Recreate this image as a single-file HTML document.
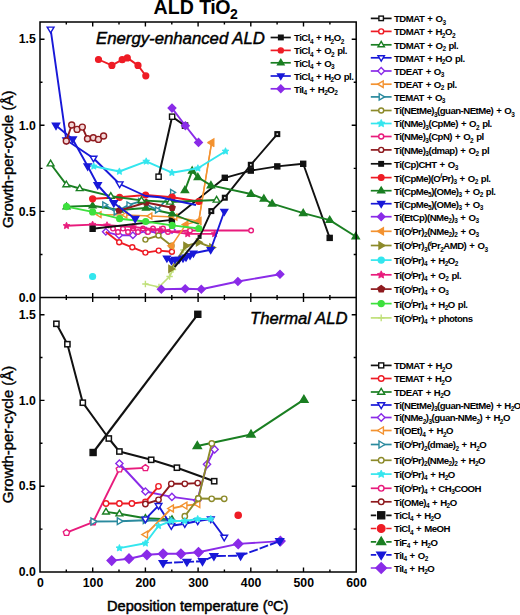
<!DOCTYPE html>
<html><head><meta charset="utf-8"><style>
html,body{margin:0;padding:0;background:#fff;}
svg{display:block;}
text{font-family:"Liberation Sans",sans-serif;fill:#000;}
</style></head><body>
<svg width="520" height="615" viewBox="0 0 520 615">
<rect width="520" height="615" fill="#fff"/>
<path d="M145.4 284.0 L159.0 287.0 L169.6 276.5 L173.0 269.6 L183.5 250.0" fill="none" stroke="#c0e07a" stroke-width="1.7" stroke-linejoin="round"/>
<path d="M142.2 284.0H148.6M145.4 280.8V287.2" stroke="#c0e07a" stroke-width="1.4" fill="none"/>
<path d="M155.8 287.0H162.2M159.0 283.8V290.2" stroke="#c0e07a" stroke-width="1.4" fill="none"/>
<path d="M166.4 276.5H172.8M169.6 273.3V279.7" stroke="#c0e07a" stroke-width="1.4" fill="none"/>
<path d="M169.8 269.6H176.2M173.0 266.4V272.8" stroke="#c0e07a" stroke-width="1.4" fill="none"/>
<path d="M180.3 250.0H186.7M183.5 246.8V253.2" stroke="#c0e07a" stroke-width="1.4" fill="none"/>
<path d="M161.3 289.2 L185.2 288.8 L201.3 289.2 L237.9 281.5 L280.0 274.2" fill="none" stroke="#8a2be8" stroke-width="1.9" stroke-linejoin="round"/>
<polygon points="161.3,285.4 165.1,289.2 161.3,293.0 157.5,289.2" fill="#8a2be8" stroke="#8a2be8" stroke-width="1.4"/>
<polygon points="185.2,285.0 189.0,288.8 185.2,292.6 181.4,288.8" fill="#8a2be8" stroke="#8a2be8" stroke-width="1.4"/>
<polygon points="201.3,285.4 205.1,289.2 201.3,293.0 197.5,289.2" fill="#8a2be8" stroke="#8a2be8" stroke-width="1.4"/>
<polygon points="237.9,277.7 241.7,281.5 237.9,285.3 234.1,281.5" fill="#8a2be8" stroke="#8a2be8" stroke-width="1.4"/>
<polygon points="280.0,270.4 283.8,274.2 280.0,278.0 276.2,274.2" fill="#8a2be8" stroke="#8a2be8" stroke-width="1.4"/>
<path d="M92.6 276.5" fill="none" stroke="#33e6ee" stroke-width="1.3" stroke-linejoin="round"/>
<circle cx="92.6" cy="276.5" r="2.9" fill="#33e6ee" stroke="#33e6ee" stroke-width="1.4"/>
<path d="M105.8 231.8 L119.0 235.3 L132.9 235.3 L146.2 230.7 L158.5 233.0 L172.0 230.0" fill="none" stroke="#8a2be8" stroke-width="1.9" stroke-linejoin="round"/>
<polygon points="105.8,228.5 109.1,231.8 105.8,235.1 102.5,231.8" fill="#fff" stroke="#8a2be8" stroke-width="1.4"/>
<polygon points="119.0,232.0 122.3,235.3 119.0,238.6 115.7,235.3" fill="#fff" stroke="#8a2be8" stroke-width="1.4"/>
<polygon points="132.9,232.0 136.2,235.3 132.9,238.6 129.6,235.3" fill="#fff" stroke="#8a2be8" stroke-width="1.4"/>
<polygon points="146.2,227.4 149.5,230.7 146.2,234.0 142.9,230.7" fill="#fff" stroke="#8a2be8" stroke-width="1.4"/>
<polygon points="158.5,229.7 161.8,233.0 158.5,236.3 155.2,233.0" fill="#fff" stroke="#8a2be8" stroke-width="1.4"/>
<polygon points="172.0,226.7 175.3,230.0 172.0,233.3 168.7,230.0" fill="#fff" stroke="#8a2be8" stroke-width="1.4"/>
<path d="M105.8 231.8 L119.2 242.2" fill="none" stroke="#ee1c25" stroke-width="1.9" stroke-linejoin="round"/>
<path d="M119.2 242.2 L132.3 247.3 L145.4 252.6 L158.7 250.6 L171.9 251.7" fill="none" stroke="#ee1c25" stroke-width="1.9" stroke-linejoin="round"/>
<circle cx="119.2" cy="242.2" r="2.5" fill="#fff" stroke="#ee1c25" stroke-width="1.4"/>
<circle cx="132.3" cy="247.3" r="2.5" fill="#fff" stroke="#ee1c25" stroke-width="1.4"/>
<circle cx="145.4" cy="252.6" r="2.5" fill="#fff" stroke="#ee1c25" stroke-width="1.4"/>
<circle cx="158.7" cy="250.6" r="2.5" fill="#fff" stroke="#ee1c25" stroke-width="1.4"/>
<circle cx="171.9" cy="251.7" r="2.5" fill="#fff" stroke="#ee1c25" stroke-width="1.4"/>
<path d="M113.0 228.6 L118.0 232.0 L123.0 228.6 L128.0 232.0 L133.0 228.6 L138.0 232.0 L143.0 228.6 L148.0 232.0 L153.0 228.6 L158.0 232.0 L163.0 228.6 L168.0 232.0 L190.0 230.5 L251.1 230.5" fill="none" stroke="#e81b7c" stroke-width="1.9" stroke-linejoin="round"/>
<circle cx="113.0" cy="228.6" r="2.3" fill="#fff" stroke="#e81b7c" stroke-width="1.4"/>
<circle cx="118.0" cy="232.0" r="2.3" fill="#fff" stroke="#e81b7c" stroke-width="1.4"/>
<circle cx="123.0" cy="228.6" r="2.3" fill="#fff" stroke="#e81b7c" stroke-width="1.4"/>
<circle cx="128.0" cy="232.0" r="2.3" fill="#fff" stroke="#e81b7c" stroke-width="1.4"/>
<circle cx="133.0" cy="228.6" r="2.3" fill="#fff" stroke="#e81b7c" stroke-width="1.4"/>
<circle cx="138.0" cy="232.0" r="2.3" fill="#fff" stroke="#e81b7c" stroke-width="1.4"/>
<circle cx="143.0" cy="228.6" r="2.3" fill="#fff" stroke="#e81b7c" stroke-width="1.4"/>
<circle cx="148.0" cy="232.0" r="2.3" fill="#fff" stroke="#e81b7c" stroke-width="1.4"/>
<circle cx="153.0" cy="228.6" r="2.3" fill="#fff" stroke="#e81b7c" stroke-width="1.4"/>
<circle cx="158.0" cy="232.0" r="2.3" fill="#fff" stroke="#e81b7c" stroke-width="1.4"/>
<circle cx="163.0" cy="228.6" r="2.3" fill="#fff" stroke="#e81b7c" stroke-width="1.4"/>
<circle cx="168.0" cy="232.0" r="2.3" fill="#fff" stroke="#e81b7c" stroke-width="1.4"/>
<circle cx="190.0" cy="230.5" r="2.3" fill="#fff" stroke="#e81b7c" stroke-width="1.4"/>
<circle cx="251.1" cy="230.5" r="2.3" fill="#fff" stroke="#e81b7c" stroke-width="1.4"/>
<path d="M145.4 239.6 L158.5 235.5 L171.5 245.8" fill="none" stroke="#8c8a2a" stroke-width="1.9" stroke-linejoin="round"/>
<circle cx="145.4" cy="239.6" r="2.5" fill="#fff" stroke="#8c8a2a" stroke-width="1.4"/>
<circle cx="158.5" cy="235.5" r="2.5" fill="#fff" stroke="#8c8a2a" stroke-width="1.4"/>
<circle cx="171.5" cy="245.8" r="2.5" fill="#fff" stroke="#8c8a2a" stroke-width="1.4"/>
<path d="M66.5 225.8 L92.6 224.6 L107.0 225.3 L133.0 227.0 L160.0 230.0 L187.7 233.9 L214.6 233.9" fill="none" stroke="#e81b7c" stroke-width="1.9" stroke-linejoin="round"/>
<polygon points="66.5,222.2 67.5,224.4 69.9,224.7 68.2,226.3 68.6,228.7 66.5,227.6 64.4,228.7 64.8,226.3 63.1,224.7 65.5,224.4" fill="#e81b7c" stroke="#e81b7c" stroke-width="0.84"/>
<polygon points="92.6,221.0 93.6,223.2 96.0,223.5 94.3,225.1 94.7,227.5 92.6,226.4 90.5,227.5 90.9,225.1 89.2,223.5 91.6,223.2" fill="#e81b7c" stroke="#e81b7c" stroke-width="0.84"/>
<polygon points="107.0,221.7 108.0,223.9 110.4,224.2 108.7,225.8 109.1,228.2 107.0,227.1 104.9,228.2 105.3,225.8 103.6,224.2 106.0,223.9" fill="#e81b7c" stroke="#e81b7c" stroke-width="0.84"/>
<polygon points="133.0,223.4 134.0,225.6 136.4,225.9 134.7,227.5 135.1,229.9 133.0,228.8 130.9,229.9 131.3,227.5 129.6,225.9 132.0,225.6" fill="#e81b7c" stroke="#e81b7c" stroke-width="0.84"/>
<polygon points="160.0,226.4 161.0,228.6 163.4,228.9 161.7,230.5 162.1,232.9 160.0,231.8 157.9,232.9 158.3,230.5 156.6,228.9 159.0,228.6" fill="#e81b7c" stroke="#e81b7c" stroke-width="0.84"/>
<polygon points="187.7,230.3 188.7,232.5 191.1,232.8 189.4,234.4 189.8,236.8 187.7,235.7 185.6,236.8 186.0,234.4 184.3,232.8 186.7,232.5" fill="#e81b7c" stroke="#e81b7c" stroke-width="0.84"/>
<polygon points="214.6,230.3 215.6,232.5 218.0,232.8 216.3,234.4 216.7,236.8 214.6,235.7 212.5,236.8 212.9,234.4 211.2,232.8 213.6,232.5" fill="#e81b7c" stroke="#e81b7c" stroke-width="0.84"/>
<path d="M92.6 228.8 L171.9 219.9 L224.8 177.8 L250.8 170.6 L277.3 166.4 L303.2 163.8 L329.7 237.9" fill="none" stroke="#111111" stroke-width="1.9" stroke-linejoin="round"/>
<rect x="90.1" y="226.3" width="5.0" height="5.0" fill="#111111" stroke="#111" stroke-width="1.4"/>
<rect x="169.4" y="217.4" width="5.0" height="5.0" fill="#111111" stroke="#111" stroke-width="1.4"/>
<rect x="222.3" y="175.3" width="5.0" height="5.0" fill="#111111" stroke="#111" stroke-width="1.4"/>
<rect x="248.3" y="168.1" width="5.0" height="5.0" fill="#111111" stroke="#111" stroke-width="1.4"/>
<rect x="274.8" y="163.9" width="5.0" height="5.0" fill="#111111" stroke="#111" stroke-width="1.4"/>
<rect x="300.7" y="161.3" width="5.0" height="5.0" fill="#111111" stroke="#111" stroke-width="1.4"/>
<rect x="327.2" y="235.4" width="5.0" height="5.0" fill="#111111" stroke="#111" stroke-width="1.4"/>
<path d="M171.0 268.8 L186.0 245.8 L198.6 242.3 L211.9 247.5" fill="none" stroke="#8c8a2a" stroke-width="1.9" stroke-linejoin="round"/>
<polygon points="174.6,268.8 168.9,265.4 168.9,272.2" fill="#8c8a2a" stroke="#8c8a2a" stroke-width="1.4" stroke-linejoin="miter"/>
<polygon points="189.6,245.8 183.9,242.4 183.9,249.2" fill="#8c8a2a" stroke="#8c8a2a" stroke-width="1.4" stroke-linejoin="miter"/>
<polygon points="202.2,242.3 196.5,238.9 196.5,245.7" fill="#8c8a2a" stroke="#8c8a2a" stroke-width="1.4" stroke-linejoin="miter"/>
<polygon points="215.5,247.5 209.8,244.1 209.8,250.9" fill="#8c8a2a" stroke="#8c8a2a" stroke-width="1.4" stroke-linejoin="miter"/>
<path d="M166.9 258.4 L171.5 260.8 L175.0 259.6 L179.0 259.5 L183.0 258.4 L186.0 257.3 L190.0 255.6 L193.4 253.3 L210.7 249.8 L224.3 211.5" fill="none" stroke="#1818d8" stroke-width="1.9" stroke-linejoin="round"/>
<polygon points="166.9,262.0 170.3,256.3 163.5,256.3" fill="#1818d8" stroke="#1818d8" stroke-width="1.4" stroke-linejoin="miter"/>
<polygon points="171.5,264.4 174.9,258.7 168.1,258.7" fill="#1818d8" stroke="#1818d8" stroke-width="1.4" stroke-linejoin="miter"/>
<polygon points="175.0,263.2 178.4,257.5 171.6,257.5" fill="#1818d8" stroke="#1818d8" stroke-width="1.4" stroke-linejoin="miter"/>
<polygon points="179.0,263.1 182.4,257.4 175.6,257.4" fill="#1818d8" stroke="#1818d8" stroke-width="1.4" stroke-linejoin="miter"/>
<polygon points="183.0,262.0 186.4,256.3 179.6,256.3" fill="#1818d8" stroke="#1818d8" stroke-width="1.4" stroke-linejoin="miter"/>
<polygon points="186.0,260.9 189.4,255.2 182.6,255.2" fill="#1818d8" stroke="#1818d8" stroke-width="1.4" stroke-linejoin="miter"/>
<polygon points="190.0,259.2 193.4,253.5 186.6,253.5" fill="#1818d8" stroke="#1818d8" stroke-width="1.4" stroke-linejoin="miter"/>
<polygon points="193.4,256.9 196.8,251.2 190.0,251.2" fill="#1818d8" stroke="#1818d8" stroke-width="1.4" stroke-linejoin="miter"/>
<polygon points="210.7,253.4 214.1,247.7 207.3,247.7" fill="#1818d8" stroke="#1818d8" stroke-width="1.4" stroke-linejoin="miter"/>
<polygon points="224.3,215.1 227.7,209.4 220.9,209.4" fill="#1818d8" stroke="#1818d8" stroke-width="1.4" stroke-linejoin="miter"/>
<path d="M174.6 267.0 L199.6 236.9" fill="none" stroke="#111111" stroke-width="2.0" stroke-linejoin="round"/>
<rect x="197.6" y="234.9" width="4" height="4" fill="#222"/>
<path d="M199.6 236.9 L211.3 211.1 L224.8 197.7 L250.8 164.8 L277.3 134.1" fill="none" stroke="#111111" stroke-width="1.9" stroke-linejoin="round"/>
<rect x="209.0" y="208.8" width="4.6" height="4.6" fill="#111" stroke="#111" stroke-width="1.4"/>
<rect x="222.5" y="195.4" width="4.6" height="4.6" fill="#111" stroke="#111" stroke-width="1.4"/>
<rect x="248.5" y="162.5" width="4.6" height="4.6" fill="#111" stroke="#111" stroke-width="1.4"/>
<rect x="275.0" y="131.8" width="4.6" height="4.6" fill="#111" stroke="#111" stroke-width="1.4"/>
<rect x="210.5" y="210.3" width="1.6" height="1.6" fill="#ddd"/>
<rect x="224.0" y="196.9" width="1.6" height="1.6" fill="#ddd"/>
<rect x="250.0" y="164.0" width="1.6" height="1.6" fill="#ddd"/>
<rect x="276.5" y="133.3" width="1.6" height="1.6" fill="#ddd"/>
<path d="M99.2 214.6 L125.0 215.0 L150.0 216.0 L175.0 217.0 L198.7 221.2 L211.5 143.0" fill="none" stroke="#f39230" stroke-width="1.3" stroke-linejoin="round"/>
<polygon points="96.1,214.6 101.0,211.7 101.0,217.5" fill="#fff" stroke="#f39230" stroke-width="1.4" stroke-linejoin="miter"/>
<polygon points="121.9,215.0 126.8,212.1 126.8,217.9" fill="#fff" stroke="#f39230" stroke-width="1.4" stroke-linejoin="miter"/>
<polygon points="146.9,216.0 151.8,213.1 151.8,218.9" fill="#fff" stroke="#f39230" stroke-width="1.4" stroke-linejoin="miter"/>
<polygon points="171.9,217.0 176.8,214.1 176.8,219.9" fill="#fff" stroke="#f39230" stroke-width="1.4" stroke-linejoin="miter"/>
<polygon points="195.6,221.2 200.5,218.3 200.5,224.1" fill="#fff" stroke="#f39230" stroke-width="1.4" stroke-linejoin="miter"/>
<polygon points="208.4,143.0 213.3,140.1 213.3,145.9" fill="#fff" stroke="#f39230" stroke-width="1.4" stroke-linejoin="miter"/>
<path d="M171.5 245.8 L185.8 224.6 L198.8 220.8 L211.7 142.3" fill="none" stroke="#f39230" stroke-width="1.5" stroke-linejoin="round"/>
<polygon points="167.9,245.8 173.6,242.4 173.6,249.2" fill="#f39230" stroke="#f39230" stroke-width="1.4" stroke-linejoin="miter"/>
<polygon points="182.2,224.6 187.9,221.2 187.9,228.0" fill="#f39230" stroke="#f39230" stroke-width="1.4" stroke-linejoin="miter"/>
<polygon points="195.2,220.8 200.9,217.4 200.9,224.2" fill="#f39230" stroke="#f39230" stroke-width="1.4" stroke-linejoin="miter"/>
<polygon points="208.1,142.3 213.8,138.9 213.8,145.7" fill="#f39230" stroke="#f39230" stroke-width="1.4" stroke-linejoin="miter"/>
<path d="M66.5 206.6 L92.6 205.7 L119.6 210.0 L146.0 208.0 L172.2 213.8" fill="none" stroke="#1a7f22" stroke-width="1.9" stroke-linejoin="round"/>
<polygon points="66.5,203.0 69.9,208.7 63.1,208.7" fill="#1a7f22" stroke="#1a7f22" stroke-width="1.4" stroke-linejoin="miter"/>
<polygon points="92.6,202.1 96.0,207.8 89.2,207.8" fill="#1a7f22" stroke="#1a7f22" stroke-width="1.4" stroke-linejoin="miter"/>
<polygon points="119.6,206.4 123.0,212.1 116.2,212.1" fill="#1a7f22" stroke="#1a7f22" stroke-width="1.4" stroke-linejoin="miter"/>
<polygon points="146.0,204.4 149.4,210.1 142.6,210.1" fill="#1a7f22" stroke="#1a7f22" stroke-width="1.4" stroke-linejoin="miter"/>
<polygon points="172.2,210.2 175.6,215.9 168.8,215.9" fill="#1a7f22" stroke="#1a7f22" stroke-width="1.4" stroke-linejoin="miter"/>
<path d="M172.2 213.8 L190.0 221.0 L198.8 224.0" fill="none" stroke="#1a7f22" stroke-width="1.6" stroke-linejoin="round"/>
<path d="M66.5 206.6 L92.6 211.9 L119.6 218.7 L145.7 221.5 L172.2 225.4 L198.8 228.5" fill="none" stroke="#3de03d" stroke-width="1.9" stroke-linejoin="round"/>
<circle cx="66.5" cy="206.6" r="2.9" fill="#3de03d" stroke="#3de03d" stroke-width="1.4"/>
<circle cx="92.6" cy="211.9" r="2.9" fill="#3de03d" stroke="#3de03d" stroke-width="1.4"/>
<circle cx="119.6" cy="218.7" r="2.9" fill="#3de03d" stroke="#3de03d" stroke-width="1.4"/>
<circle cx="145.7" cy="221.5" r="2.9" fill="#3de03d" stroke="#3de03d" stroke-width="1.4"/>
<circle cx="172.2" cy="225.4" r="2.9" fill="#3de03d" stroke="#3de03d" stroke-width="1.4"/>
<circle cx="198.8" cy="228.5" r="2.9" fill="#3de03d" stroke="#3de03d" stroke-width="1.4"/>
<path d="M104.6 204.8 L116.0 212.0 L128.8 204.8 L140.4 201.3 L157.3 210.0 L172.4 192.4" fill="none" stroke="#2a8a9e" stroke-width="1.9" stroke-linejoin="round"/>
<polygon points="107.7,204.8 102.8,201.9 102.8,207.7" fill="#fff" stroke="#2a8a9e" stroke-width="1.4" stroke-linejoin="miter"/>
<polygon points="119.1,212.0 114.2,209.1 114.2,214.9" fill="#fff" stroke="#2a8a9e" stroke-width="1.4" stroke-linejoin="miter"/>
<polygon points="131.9,204.8 127.0,201.9 127.0,207.7" fill="#fff" stroke="#2a8a9e" stroke-width="1.4" stroke-linejoin="miter"/>
<polygon points="143.5,201.3 138.6,198.4 138.6,204.2" fill="#fff" stroke="#2a8a9e" stroke-width="1.4" stroke-linejoin="miter"/>
<polygon points="160.4,210.0 155.5,207.1 155.5,212.9" fill="#fff" stroke="#2a8a9e" stroke-width="1.4" stroke-linejoin="miter"/>
<polygon points="175.5,192.4 170.6,189.5 170.6,195.3" fill="#fff" stroke="#2a8a9e" stroke-width="1.4" stroke-linejoin="miter"/>
<path d="M119.0 210.6 L146.2 202.5 L172.2 207.7" fill="none" stroke="#8e1a1e" stroke-width="1.9" stroke-linejoin="round"/>
<polygon points="119.0,207.5 121.9,209.6 120.8,213.1 117.2,213.1 116.1,209.6" fill="#8e1a1e" stroke="#8e1a1e" stroke-width="1.4"/>
<polygon points="146.2,199.4 149.1,201.5 148.0,205.0 144.4,205.0 143.3,201.5" fill="#8e1a1e" stroke="#8e1a1e" stroke-width="1.4"/>
<polygon points="172.2,204.6 175.1,206.7 174.0,210.2 170.4,210.2 169.3,206.7" fill="#8e1a1e" stroke="#8e1a1e" stroke-width="1.4"/>
<path d="M92.6 198.8 L119.6 197.3 L145.6 195.0 L172.2 197.2 L198.8 201.5" fill="none" stroke="#ee1c25" stroke-width="1.9" stroke-linejoin="round"/>
<circle cx="92.6" cy="198.8" r="2.9" fill="#ee1c25" stroke="#ee1c25" stroke-width="1.4"/>
<circle cx="119.6" cy="197.3" r="2.9" fill="#ee1c25" stroke="#ee1c25" stroke-width="1.4"/>
<circle cx="145.6" cy="195.0" r="2.9" fill="#ee1c25" stroke="#ee1c25" stroke-width="1.4"/>
<circle cx="172.2" cy="197.2" r="2.9" fill="#ee1c25" stroke="#ee1c25" stroke-width="1.4"/>
<circle cx="198.8" cy="201.5" r="2.9" fill="#ee1c25" stroke="#ee1c25" stroke-width="1.4"/>
<path d="M50.6 163.8 L66.3 184.6 L79.7 188.5 L110.8 196.2 L141.5 200.4 L170.0 202.0 L216.6 200.0" fill="none" stroke="#1a7f22" stroke-width="1.9" stroke-linejoin="round"/>
<polygon points="50.6,160.2 54.0,165.9 47.2,165.9" fill="#fff" stroke="#1a7f22" stroke-width="1.4" stroke-linejoin="miter"/>
<polygon points="66.3,181.0 69.7,186.7 62.9,186.7" fill="#fff" stroke="#1a7f22" stroke-width="1.4" stroke-linejoin="miter"/>
<polygon points="79.7,184.9 83.1,190.6 76.3,190.6" fill="#fff" stroke="#1a7f22" stroke-width="1.4" stroke-linejoin="miter"/>
<polygon points="110.8,192.6 114.2,198.3 107.4,198.3" fill="#fff" stroke="#1a7f22" stroke-width="1.4" stroke-linejoin="miter"/>
<polygon points="141.5,196.8 144.9,202.5 138.1,202.5" fill="#fff" stroke="#1a7f22" stroke-width="1.4" stroke-linejoin="miter"/>
<polygon points="170.0,198.4 173.4,204.1 166.6,204.1" fill="#fff" stroke="#1a7f22" stroke-width="1.4" stroke-linejoin="miter"/>
<polygon points="216.6,196.4 220.0,202.1 213.2,202.1" fill="#fff" stroke="#1a7f22" stroke-width="1.4" stroke-linejoin="miter"/>
<path d="M184.9 190.3 L192.2 170.8 L197.9 177.3 L210.9 185.4 L251.0 194.0 L263.9 198.8 L272.1 203.7 L303.2 213.2 L329.7 220.1 L355.7 236.5" fill="none" stroke="#1a7f22" stroke-width="1.9" stroke-linejoin="round"/>
<polygon points="184.9,186.5 188.5,192.6 181.3,192.6" fill="#1a7f22" stroke="#1a7f22" stroke-width="1.4" stroke-linejoin="miter"/>
<polygon points="192.2,167.0 195.8,173.1 188.6,173.1" fill="#1a7f22" stroke="#1a7f22" stroke-width="1.4" stroke-linejoin="miter"/>
<polygon points="197.9,173.5 201.5,179.6 194.3,179.6" fill="#1a7f22" stroke="#1a7f22" stroke-width="1.4" stroke-linejoin="miter"/>
<polygon points="210.9,181.6 214.5,187.7 207.3,187.7" fill="#1a7f22" stroke="#1a7f22" stroke-width="1.4" stroke-linejoin="miter"/>
<polygon points="251.0,190.2 254.6,196.3 247.4,196.3" fill="#1a7f22" stroke="#1a7f22" stroke-width="1.4" stroke-linejoin="miter"/>
<polygon points="263.9,195.0 267.5,201.1 260.3,201.1" fill="#1a7f22" stroke="#1a7f22" stroke-width="1.4" stroke-linejoin="miter"/>
<polygon points="272.1,199.9 275.7,206.0 268.5,206.0" fill="#1a7f22" stroke="#1a7f22" stroke-width="1.4" stroke-linejoin="miter"/>
<polygon points="303.2,209.4 306.8,215.5 299.6,215.5" fill="#1a7f22" stroke="#1a7f22" stroke-width="1.4" stroke-linejoin="miter"/>
<polygon points="329.7,216.3 333.3,222.4 326.1,222.4" fill="#1a7f22" stroke="#1a7f22" stroke-width="1.4" stroke-linejoin="miter"/>
<polygon points="355.7,232.7 359.3,238.8 352.1,238.8" fill="#1a7f22" stroke="#1a7f22" stroke-width="1.4" stroke-linejoin="miter"/>
<path d="M56.0 125.6 L72.7 139.2 L87.7 166.3 L97.7 185.0 L113.8 203.0 L135.2 218.7" fill="none" stroke="#1818d8" stroke-width="1.9" stroke-linejoin="round"/>
<polygon points="56.0,129.4 59.6,123.3 52.4,123.3" fill="#1818d8" stroke="#1818d8" stroke-width="1.4" stroke-linejoin="miter"/>
<polygon points="72.7,143.0 76.3,136.9 69.1,136.9" fill="#1818d8" stroke="#1818d8" stroke-width="1.4" stroke-linejoin="miter"/>
<polygon points="87.7,170.1 91.3,164.0 84.1,164.0" fill="#1818d8" stroke="#1818d8" stroke-width="1.4" stroke-linejoin="miter"/>
<polygon points="97.7,188.8 101.3,182.7 94.1,182.7" fill="#1818d8" stroke="#1818d8" stroke-width="1.4" stroke-linejoin="miter"/>
<polygon points="113.8,206.8 117.4,200.7 110.2,200.7" fill="#1818d8" stroke="#1818d8" stroke-width="1.4" stroke-linejoin="miter"/>
<polygon points="135.2,222.5 138.8,216.4 131.6,216.4" fill="#1818d8" stroke="#1818d8" stroke-width="1.4" stroke-linejoin="miter"/>
<path d="M119.6 184.0 L145.6 196.0 L160.0 197.3 L196.0 205.0" fill="none" stroke="#1818d8" stroke-width="1.9" stroke-linejoin="round"/>
<path d="M50.6 29.2 L66.3 140.0 L93.5 158.3 L119.6 184.0" fill="none" stroke="#1818d8" stroke-width="1.9" stroke-linejoin="round"/>
<polygon points="50.6,32.8 54.0,27.1 47.2,27.1" fill="#fff" stroke="#1818d8" stroke-width="1.4" stroke-linejoin="miter"/>
<polygon points="66.3,143.6 69.7,137.9 62.9,137.9" fill="#fff" stroke="#1818d8" stroke-width="1.4" stroke-linejoin="miter"/>
<polygon points="93.5,161.9 96.9,156.2 90.1,156.2" fill="#fff" stroke="#1818d8" stroke-width="1.4" stroke-linejoin="miter"/>
<polygon points="119.6,187.6 123.0,181.9 116.2,181.9" fill="#fff" stroke="#1818d8" stroke-width="1.4" stroke-linejoin="miter"/>
<path d="M93.8 166.3 L119.4 171.5 L146.2 161.4 L171.9 172.7 L197.9 168.3 L225.5 151.3" fill="none" stroke="#33e6ee" stroke-width="1.9" stroke-linejoin="round"/>
<polygon points="93.8,162.7 94.8,164.9 97.2,165.2 95.5,166.8 95.9,169.2 93.8,168.1 91.7,169.2 92.1,166.8 90.4,165.2 92.8,164.9" fill="#33e6ee" stroke="#33e6ee" stroke-width="0.84"/>
<polygon points="119.4,167.9 120.4,170.1 122.8,170.4 121.1,172.0 121.5,174.4 119.4,173.3 117.3,174.4 117.7,172.0 116.0,170.4 118.4,170.1" fill="#33e6ee" stroke="#33e6ee" stroke-width="0.84"/>
<polygon points="146.2,157.8 147.2,160.0 149.6,160.3 147.9,161.9 148.3,164.3 146.2,163.2 144.1,164.3 144.5,161.9 142.8,160.3 145.2,160.0" fill="#33e6ee" stroke="#33e6ee" stroke-width="0.84"/>
<polygon points="171.9,169.1 172.9,171.3 175.3,171.6 173.6,173.2 174.0,175.6 171.9,174.5 169.8,175.6 170.2,173.2 168.5,171.6 170.9,171.3" fill="#33e6ee" stroke="#33e6ee" stroke-width="0.84"/>
<polygon points="197.9,164.7 198.9,166.9 201.3,167.2 199.6,168.8 200.0,171.2 197.9,170.1 195.8,171.2 196.2,168.8 194.5,167.2 196.9,166.9" fill="#33e6ee" stroke="#33e6ee" stroke-width="0.84"/>
<polygon points="225.5,147.7 226.5,149.9 228.9,150.2 227.2,151.8 227.6,154.2 225.5,153.1 223.4,154.2 223.8,151.8 222.1,150.2 224.5,149.9" fill="#33e6ee" stroke="#33e6ee" stroke-width="0.84"/>
<path d="M66.3 141.0 L71.7 125.0 L77.1 129.4 L82.3 127.1 L87.5 138.8 L93.3 137.7 L98.4 139.4 L103.6 136.0" fill="none" stroke="#8e1a1e" stroke-width="1.9" stroke-linejoin="round"/>
<circle cx="66.3" cy="141.0" r="3.0" fill="#f3d6d6" stroke="#8e1a1e" stroke-width="1.4"/>
<circle cx="71.7" cy="125.0" r="3.0" fill="#f3d6d6" stroke="#8e1a1e" stroke-width="1.4"/>
<circle cx="77.1" cy="129.4" r="3.0" fill="#f3d6d6" stroke="#8e1a1e" stroke-width="1.4"/>
<circle cx="82.3" cy="127.1" r="3.0" fill="#f3d6d6" stroke="#8e1a1e" stroke-width="1.4"/>
<circle cx="87.5" cy="138.8" r="3.0" fill="#f3d6d6" stroke="#8e1a1e" stroke-width="1.4"/>
<circle cx="93.3" cy="137.7" r="3.0" fill="#f3d6d6" stroke="#8e1a1e" stroke-width="1.4"/>
<circle cx="98.4" cy="139.4" r="3.0" fill="#f3d6d6" stroke="#8e1a1e" stroke-width="1.4"/>
<circle cx="103.6" cy="136.0" r="3.0" fill="#f3d6d6" stroke="#8e1a1e" stroke-width="1.4"/>
<path d="M158.6 176.7 L172.1 116.7 L185.0 125.6" fill="none" stroke="#111111" stroke-width="2.0" stroke-linejoin="round"/>
<rect x="156.0" y="174.1" width="5.2" height="5.2" fill="#fff" stroke="#111111" stroke-width="1.4"/>
<rect x="169.5" y="114.1" width="5.2" height="5.2" fill="#fff" stroke="#111111" stroke-width="1.4"/>
<rect x="182.4" y="123.0" width="5.2" height="5.2" fill="#fff" stroke="#111111" stroke-width="1.4"/>
<path d="M172.0 108.1 L185.4 125.8 L198.5 142.4" fill="none" stroke="#8a2be8" stroke-width="1.9" stroke-linejoin="round"/>
<polygon points="172.0,104.3 175.8,108.1 172.0,111.9 168.2,108.1" fill="#8a2be8" stroke="#8a2be8" stroke-width="1.4"/>
<polygon points="185.4,122.0 189.2,125.8 185.4,129.6 181.6,125.8" fill="#8a2be8" stroke="#8a2be8" stroke-width="1.4"/>
<polygon points="198.5,138.6 202.3,142.4 198.5,146.2 194.7,142.4" fill="#8a2be8" stroke="#8a2be8" stroke-width="1.4"/>
<path d="M98.5 59.5 L111.9 65.4 L122.2 59.7 L127.3 57.9 L138.0 65.4 L145.8 75.8" fill="none" stroke="#ee1c25" stroke-width="1.9" stroke-linejoin="round"/>
<circle cx="98.5" cy="59.5" r="2.9" fill="#ee1c25" stroke="#ee1c25" stroke-width="1.4"/>
<circle cx="111.9" cy="65.4" r="2.9" fill="#ee1c25" stroke="#ee1c25" stroke-width="1.4"/>
<circle cx="122.2" cy="59.7" r="2.9" fill="#ee1c25" stroke="#ee1c25" stroke-width="1.4"/>
<circle cx="127.3" cy="57.9" r="2.9" fill="#ee1c25" stroke="#ee1c25" stroke-width="1.4"/>
<circle cx="138.0" cy="65.4" r="2.9" fill="#ee1c25" stroke="#ee1c25" stroke-width="1.4"/>
<circle cx="145.8" cy="75.8" r="2.9" fill="#ee1c25" stroke="#ee1c25" stroke-width="1.4"/>
<path d="M93.1 452.5 L197.8 314.3" fill="none" stroke="#111111" stroke-width="2.1" stroke-linejoin="round"/>
<rect x="90.1" y="449.5" width="6.0" height="6.0" fill="#111111" stroke="#111" stroke-width="1.4"/>
<rect x="194.8" y="311.3" width="6.0" height="6.0" fill="#111111" stroke="#111" stroke-width="1.4"/>
<path d="M56.4 323.8 L67.4 344.2 L82.8 402.7 L108.8 438.5 L119.4 451.5 L151.2 459.8 L176.9 467.7 L214.2 481.2" fill="none" stroke="#111111" stroke-width="2.0" stroke-linejoin="round"/>
<rect x="53.8" y="321.2" width="5.2" height="5.2" fill="#fff" stroke="#111111" stroke-width="1.5"/>
<rect x="64.8" y="341.6" width="5.2" height="5.2" fill="#fff" stroke="#111111" stroke-width="1.5"/>
<rect x="80.2" y="400.1" width="5.2" height="5.2" fill="#fff" stroke="#111111" stroke-width="1.5"/>
<rect x="106.2" y="435.9" width="5.2" height="5.2" fill="#fff" stroke="#111111" stroke-width="1.5"/>
<rect x="116.8" y="448.9" width="5.2" height="5.2" fill="#fff" stroke="#111111" stroke-width="1.5"/>
<rect x="148.6" y="457.2" width="5.2" height="5.2" fill="#fff" stroke="#111111" stroke-width="1.5"/>
<rect x="174.3" y="465.1" width="5.2" height="5.2" fill="#fff" stroke="#111111" stroke-width="1.5"/>
<rect x="211.6" y="478.6" width="5.2" height="5.2" fill="#fff" stroke="#111111" stroke-width="1.5"/>
<path d="M197.3 446.0 L251.0 434.5 L303.9 399.7" fill="none" stroke="#1a7f22" stroke-width="2.0" stroke-linejoin="round"/>
<polygon points="197.3,441.7 201.4,448.6 193.2,448.6" fill="#1a7f22" stroke="#1a7f22" stroke-width="1.4" stroke-linejoin="miter"/>
<polygon points="251.0,430.2 255.1,437.1 246.9,437.1" fill="#1a7f22" stroke="#1a7f22" stroke-width="1.4" stroke-linejoin="miter"/>
<polygon points="303.9,395.4 308.0,402.3 299.8,402.3" fill="#1a7f22" stroke="#1a7f22" stroke-width="1.4" stroke-linejoin="miter"/>
<path d="M66.5 532.7 L93.1 522.1 L119.4 469.2 L145.4 467.9" fill="none" stroke="#e81b7c" stroke-width="1.9" stroke-linejoin="round"/>
<polygon points="66.5,529.4 69.7,531.7 68.5,535.4 64.5,535.4 63.3,531.7" fill="#fff" stroke="#e81b7c" stroke-width="1.4"/>
<polygon points="93.1,518.8 96.3,521.1 95.1,524.8 91.1,524.8 89.9,521.1" fill="#fff" stroke="#e81b7c" stroke-width="1.4"/>
<polygon points="119.4,465.9 122.6,468.2 121.4,471.9 117.4,471.9 116.2,468.2" fill="#fff" stroke="#e81b7c" stroke-width="1.4"/>
<polygon points="145.4,464.6 148.6,466.9 147.4,470.6 143.4,470.6 142.2,466.9" fill="#fff" stroke="#e81b7c" stroke-width="1.4"/>
<path d="M119.4 463.5 L145.4 491.5 L171.9 496.9 L197.3 500.4 L207.0 464.3 L214.6 449.4" fill="none" stroke="#8a2be8" stroke-width="1.9" stroke-linejoin="round"/>
<polygon points="119.4,459.9 123.0,463.5 119.4,467.1 115.8,463.5" fill="#fff" stroke="#8a2be8" stroke-width="1.4"/>
<polygon points="145.4,487.9 149.0,491.5 145.4,495.1 141.8,491.5" fill="#fff" stroke="#8a2be8" stroke-width="1.4"/>
<polygon points="171.9,493.3 175.5,496.9 171.9,500.5 168.3,496.9" fill="#fff" stroke="#8a2be8" stroke-width="1.4"/>
<polygon points="197.3,496.8 200.9,500.4 197.3,504.0 193.7,500.4" fill="#fff" stroke="#8a2be8" stroke-width="1.4"/>
<polygon points="207.0,460.7 210.6,464.3 207.0,467.9 203.4,464.3" fill="#fff" stroke="#8a2be8" stroke-width="1.4"/>
<polygon points="214.6,445.8 218.2,449.4 214.6,453.0 211.0,449.4" fill="#fff" stroke="#8a2be8" stroke-width="1.4"/>
<path d="M106.0 503.5 L119.4 503.5 L131.9 503.5 L145.4 501.9 L158.5 486.3" fill="none" stroke="#ee1c25" stroke-width="1.9" stroke-linejoin="round"/>
<circle cx="106.0" cy="503.5" r="2.7" fill="#fff" stroke="#ee1c25" stroke-width="1.4"/>
<circle cx="119.4" cy="503.5" r="2.7" fill="#fff" stroke="#ee1c25" stroke-width="1.4"/>
<circle cx="131.9" cy="503.5" r="2.7" fill="#fff" stroke="#ee1c25" stroke-width="1.4"/>
<circle cx="145.4" cy="501.9" r="2.7" fill="#fff" stroke="#ee1c25" stroke-width="1.4"/>
<circle cx="158.5" cy="486.3" r="2.7" fill="#fff" stroke="#ee1c25" stroke-width="1.4"/>
<path d="M145.4 504.0 L158.5 499.8 L171.3 483.8 L184.8 483.8 L197.7 483.1" fill="none" stroke="#8e1a1e" stroke-width="1.9" stroke-linejoin="round"/>
<circle cx="145.4" cy="504.0" r="2.7" fill="#fff" stroke="#8e1a1e" stroke-width="1.4"/>
<circle cx="158.5" cy="499.8" r="2.7" fill="#fff" stroke="#8e1a1e" stroke-width="1.4"/>
<circle cx="171.3" cy="483.8" r="2.7" fill="#fff" stroke="#8e1a1e" stroke-width="1.4"/>
<circle cx="184.8" cy="483.8" r="2.7" fill="#fff" stroke="#8e1a1e" stroke-width="1.4"/>
<circle cx="197.7" cy="483.1" r="2.7" fill="#fff" stroke="#8e1a1e" stroke-width="1.4"/>
<path d="M106.0 511.9 L119.4 513.8 L145.4 518.3 L172.0 519.5" fill="none" stroke="#1a7f22" stroke-width="1.9" stroke-linejoin="round"/>
<polygon points="106.0,508.3 109.4,514.0 102.6,514.0" fill="#fff" stroke="#1a7f22" stroke-width="1.4" stroke-linejoin="miter"/>
<polygon points="119.4,510.2 122.8,515.9 116.0,515.9" fill="#fff" stroke="#1a7f22" stroke-width="1.4" stroke-linejoin="miter"/>
<polygon points="145.4,514.7 148.8,520.4 142.0,520.4" fill="#fff" stroke="#1a7f22" stroke-width="1.4" stroke-linejoin="miter"/>
<polygon points="172.0,515.9 175.4,521.6 168.6,521.6" fill="#fff" stroke="#1a7f22" stroke-width="1.4" stroke-linejoin="miter"/>
<path d="M93.1 521.5 L119.4 521.2 L145.4 520.2 L172.0 520.5" fill="none" stroke="#2a8a9e" stroke-width="1.9" stroke-linejoin="round"/>
<polygon points="96.7,521.5 91.0,518.1 91.0,524.9" fill="#fff" stroke="#2a8a9e" stroke-width="1.4" stroke-linejoin="miter"/>
<polygon points="123.0,521.2 117.3,517.8 117.3,524.6" fill="#fff" stroke="#2a8a9e" stroke-width="1.4" stroke-linejoin="miter"/>
<polygon points="149.0,520.2 143.3,516.8 143.3,523.6" fill="#fff" stroke="#2a8a9e" stroke-width="1.4" stroke-linejoin="miter"/>
<polygon points="175.6,520.5 169.9,517.1 169.9,523.9" fill="#fff" stroke="#2a8a9e" stroke-width="1.4" stroke-linejoin="miter"/>
<path d="M145.4 519.2 L158.5 505.6 L171.3 525.8 L184.8 523.8 L197.7 521.0 L210.8 519.0 L224.2 537.3" fill="none" stroke="#1818d8" stroke-width="1.9" stroke-linejoin="round"/>
<polygon points="145.4,522.8 148.8,517.1 142.0,517.1" fill="#fff" stroke="#1818d8" stroke-width="1.4" stroke-linejoin="miter"/>
<polygon points="158.5,509.2 161.9,503.5 155.1,503.5" fill="#fff" stroke="#1818d8" stroke-width="1.4" stroke-linejoin="miter"/>
<polygon points="171.3,529.4 174.7,523.7 167.9,523.7" fill="#fff" stroke="#1818d8" stroke-width="1.4" stroke-linejoin="miter"/>
<polygon points="184.8,527.4 188.2,521.7 181.4,521.7" fill="#fff" stroke="#1818d8" stroke-width="1.4" stroke-linejoin="miter"/>
<polygon points="197.7,524.6 201.1,518.9 194.3,518.9" fill="#fff" stroke="#1818d8" stroke-width="1.4" stroke-linejoin="miter"/>
<polygon points="210.8,522.6 214.2,516.9 207.4,516.9" fill="#fff" stroke="#1818d8" stroke-width="1.4" stroke-linejoin="miter"/>
<polygon points="224.2,540.9 227.6,535.2 220.8,535.2" fill="#fff" stroke="#1818d8" stroke-width="1.4" stroke-linejoin="miter"/>
<path d="M145.4 534.6 L171.3 508.5 L184.8 505.6 L197.7 504.2" fill="none" stroke="#f39230" stroke-width="1.9" stroke-linejoin="round"/>
<polygon points="141.8,534.6 147.5,531.2 147.5,538.0" fill="#fff" stroke="#f39230" stroke-width="1.4" stroke-linejoin="miter"/>
<polygon points="167.7,508.5 173.4,505.1 173.4,511.9" fill="#fff" stroke="#f39230" stroke-width="1.4" stroke-linejoin="miter"/>
<polygon points="181.2,505.6 186.9,502.2 186.9,509.0" fill="#fff" stroke="#f39230" stroke-width="1.4" stroke-linejoin="miter"/>
<polygon points="194.1,504.2 199.8,500.8 199.8,507.6" fill="#fff" stroke="#f39230" stroke-width="1.4" stroke-linejoin="miter"/>
<path d="M184.8 516.2 L198.3 498.5 L211.8 443.5" fill="none" stroke="#8c8a2a" stroke-width="1.9" stroke-linejoin="round"/>
<circle cx="184.8" cy="516.2" r="2.7" fill="#fff" stroke="#8c8a2a" stroke-width="1.4"/>
<circle cx="198.3" cy="498.5" r="2.7" fill="#fff" stroke="#8c8a2a" stroke-width="1.4"/>
<circle cx="211.8" cy="443.5" r="2.7" fill="#fff" stroke="#8c8a2a" stroke-width="1.4"/>
<path d="M198.3 498.5 L211.7 498.8 L224.2 498.8" fill="none" stroke="#8c8a2a" stroke-width="1.9" stroke-linejoin="round"/>
<circle cx="198.3" cy="498.5" r="2.7" fill="#fff" stroke="#8c8a2a" stroke-width="1.4"/>
<circle cx="211.7" cy="498.8" r="2.7" fill="#fff" stroke="#8c8a2a" stroke-width="1.4"/>
<circle cx="224.2" cy="498.8" r="2.7" fill="#fff" stroke="#8c8a2a" stroke-width="1.4"/>
<path d="M119.4 548.1 L145.4 543.3 L158.5 525.8 L171.3 521.0 L184.8 521.0 L197.7 519.0 L210.8 519.0" fill="none" stroke="#33e6ee" stroke-width="1.9" stroke-linejoin="round"/>
<polygon points="119.4,544.5 120.4,546.7 122.8,547.0 121.1,548.6 121.5,551.0 119.4,549.9 117.3,551.0 117.7,548.6 116.0,547.0 118.4,546.7" fill="#33e6ee" stroke="#33e6ee" stroke-width="0.84"/>
<polygon points="145.4,539.7 146.4,541.9 148.8,542.2 147.1,543.8 147.5,546.2 145.4,545.1 143.3,546.2 143.7,543.8 142.0,542.2 144.4,541.9" fill="#33e6ee" stroke="#33e6ee" stroke-width="0.84"/>
<polygon points="158.5,522.2 159.5,524.4 161.9,524.7 160.2,526.3 160.6,528.7 158.5,527.6 156.4,528.7 156.8,526.3 155.1,524.7 157.5,524.4" fill="#33e6ee" stroke="#33e6ee" stroke-width="0.84"/>
<polygon points="171.3,517.4 172.3,519.6 174.7,519.9 173.0,521.5 173.4,523.9 171.3,522.8 169.2,523.9 169.6,521.5 167.9,519.9 170.3,519.6" fill="#33e6ee" stroke="#33e6ee" stroke-width="0.84"/>
<polygon points="184.8,517.4 185.8,519.6 188.2,519.9 186.5,521.5 186.9,523.9 184.8,522.8 182.7,523.9 183.1,521.5 181.4,519.9 183.8,519.6" fill="#33e6ee" stroke="#33e6ee" stroke-width="0.84"/>
<polygon points="197.7,515.4 198.7,517.6 201.1,517.9 199.4,519.5 199.8,521.9 197.7,520.8 195.6,521.9 196.0,519.5 194.3,517.9 196.7,517.6" fill="#33e6ee" stroke="#33e6ee" stroke-width="0.84"/>
<polygon points="210.8,515.4 211.8,517.6 214.2,517.9 212.5,519.5 212.9,521.9 210.8,520.8 208.7,521.9 209.1,519.5 207.4,517.9 209.8,517.6" fill="#33e6ee" stroke="#33e6ee" stroke-width="0.84"/>
<path d="M238.2 515.2" fill="none" stroke="#ee1c25" stroke-width="1.3" stroke-linejoin="round"/>
<circle cx="238.2" cy="515.2" r="3.1" fill="#ee1c25" stroke="#ee1c25" stroke-width="1.4"/>
<path d="M111.7 560.6 L129.0 558.7 L146.9 554.8 L163.1 553.8 L180.9 553.8 L198.5 552.3 L238.2 543.9 L280.4 541.1" fill="none" stroke="#8a2be8" stroke-width="1.9" stroke-linejoin="round"/>
<polygon points="111.7,556.0 116.3,560.6 111.7,565.2 107.1,560.6" fill="#8a2be8" stroke="#8a2be8" stroke-width="1.4"/>
<polygon points="129.0,554.1 133.6,558.7 129.0,563.3 124.4,558.7" fill="#8a2be8" stroke="#8a2be8" stroke-width="1.4"/>
<polygon points="146.9,550.2 151.5,554.8 146.9,559.4 142.3,554.8" fill="#8a2be8" stroke="#8a2be8" stroke-width="1.4"/>
<polygon points="163.1,549.2 167.7,553.8 163.1,558.4 158.5,553.8" fill="#8a2be8" stroke="#8a2be8" stroke-width="1.4"/>
<polygon points="180.9,549.2 185.5,553.8 180.9,558.4 176.3,553.8" fill="#8a2be8" stroke="#8a2be8" stroke-width="1.4"/>
<polygon points="198.5,547.7 203.1,552.3 198.5,556.9 193.9,552.3" fill="#8a2be8" stroke="#8a2be8" stroke-width="1.4"/>
<polygon points="238.2,539.3 242.8,543.9 238.2,548.5 233.6,543.9" fill="#8a2be8" stroke="#8a2be8" stroke-width="1.4"/>
<polygon points="280.4,536.5 285.0,541.1 280.4,545.7 275.8,541.1" fill="#8a2be8" stroke="#8a2be8" stroke-width="1.4"/>
<path d="M163.1 563.1 L186.9 561.9 L202.5 561.2 L213.9 556.0 L240.6 555.7 L279.7 541.1" fill="none" stroke="#1818d8" stroke-width="1.9" stroke-linejoin="round" stroke-dasharray="9 2"/>
<polygon points="163.1,567.2 167.0,560.7 159.2,560.7" fill="#1818d8" stroke="#1818d8" stroke-width="1.4" stroke-linejoin="miter"/>
<polygon points="186.9,566.0 190.8,559.5 183.0,559.5" fill="#1818d8" stroke="#1818d8" stroke-width="1.4" stroke-linejoin="miter"/>
<polygon points="202.5,565.3 206.4,558.8 198.6,558.8" fill="#1818d8" stroke="#1818d8" stroke-width="1.4" stroke-linejoin="miter"/>
<polygon points="213.9,560.1 217.8,553.6 210.0,553.6" fill="#1818d8" stroke="#1818d8" stroke-width="1.4" stroke-linejoin="miter"/>
<polygon points="240.6,559.8 244.5,553.3 236.7,553.3" fill="#1818d8" stroke="#1818d8" stroke-width="1.4" stroke-linejoin="miter"/>
<polygon points="279.7,545.2 283.6,538.7 275.8,538.7" fill="#1818d8" stroke="#1818d8" stroke-width="1.4" stroke-linejoin="miter"/>
<rect x="40" y="22" width="316.2" height="550" fill="none" stroke="#000" stroke-width="1.5"/>
<line x1="40" y1="297.5" x2="356.2" y2="297.5" stroke="#000" stroke-width="1.5"/>
<path d="M66.3 22v2.5 M66.3 295.0v5.0 M66.3 572v-2.5 M92.7 22v4.5 M92.7 293.0v9.0 M92.7 572v-4.5 M119.0 22v2.5 M119.0 295.0v5.0 M119.0 572v-2.5 M145.4 22v4.5 M145.4 293.0v9.0 M145.4 572v-4.5 M171.8 22v2.5 M171.8 295.0v5.0 M171.8 572v-2.5 M198.1 22v4.5 M198.1 293.0v9.0 M198.1 572v-4.5 M224.4 22v2.5 M224.4 295.0v5.0 M224.4 572v-2.5 M250.8 22v4.5 M250.8 293.0v9.0 M250.8 572v-4.5 M277.1 22v2.5 M277.1 295.0v5.0 M277.1 572v-2.5 M303.5 22v4.5 M303.5 293.0v9.0 M303.5 572v-4.5 M329.9 22v2.5 M329.9 295.0v5.0 M329.9 572v-2.5 M40 254.5h2.5 M356.2 254.5h-2.5 M40 529.1h2.5 M356.2 529.1h-2.5 M40 211.4h4.5 M356.2 211.4h-4.5 M40 486.2h4.5 M356.2 486.2h-4.5 M40 168.4h2.5 M356.2 168.4h-2.5 M40 443.3h2.5 M356.2 443.3h-2.5 M40 125.3h4.5 M356.2 125.3h-4.5 M40 400.4h4.5 M356.2 400.4h-4.5 M40 82.3h2.5 M356.2 82.3h-2.5 M40 357.5h2.5 M356.2 357.5h-2.5 M40 39.2h4.5 M356.2 39.2h-4.5 M40 314.7h4.5 M356.2 314.7h-4.5" stroke="#000" stroke-width="1.4" fill="none"/>
<text x="40.3" y="587.1" text-anchor="middle" font-weight="bold" font-size="12.3">0</text>
<text x="93.0" y="587.1" text-anchor="middle" font-weight="bold" font-size="12.3">100</text>
<text x="145.7" y="587.1" text-anchor="middle" font-weight="bold" font-size="12.3">200</text>
<text x="198.4" y="587.1" text-anchor="middle" font-weight="bold" font-size="12.3">300</text>
<text x="251.1" y="587.1" text-anchor="middle" font-weight="bold" font-size="12.3">400</text>
<text x="303.8" y="587.1" text-anchor="middle" font-weight="bold" font-size="12.3">500</text>
<text x="356.5" y="587.1" text-anchor="middle" font-weight="bold" font-size="12.3">600</text>
<text x="35.8" y="301.7" text-anchor="end" font-weight="bold" font-size="12.3">0.0</text>
<text x="35.8" y="576.2" text-anchor="end" font-weight="bold" font-size="12.3">0.0</text>
<text x="35.8" y="215.6" text-anchor="end" font-weight="bold" font-size="12.3">0.5</text>
<text x="35.8" y="490.4" text-anchor="end" font-weight="bold" font-size="12.3">0.5</text>
<text x="35.8" y="129.5" text-anchor="end" font-weight="bold" font-size="12.3">1.0</text>
<text x="35.8" y="404.6" text-anchor="end" font-weight="bold" font-size="12.3">1.0</text>
<text x="35.8" y="43.4" text-anchor="end" font-weight="bold" font-size="12.3">1.5</text>
<text x="35.8" y="318.9" text-anchor="end" font-weight="bold" font-size="12.3">1.5</text>
<text x="153.6" y="13.6" font-weight="bold" font-size="19.6">ALD <tspan letter-spacing="-0.6">TiO</tspan><tspan font-size="14" dy="5.6" dx="0.3">2</tspan></text>
<text x="96" y="44.4" font-style="italic" font-size="16.75" stroke="#000" stroke-width="0.45">Energy-enhanced ALD</text>
<text x="250" y="323.7" font-style="italic" font-size="16.65" stroke="#000" stroke-width="0.45">Thermal ALD</text>
<text x="107" y="611.4" font-size="14.6" stroke="#000" stroke-width="0.5">Deposition temperature (<tspan font-size="9.5" dy="-5.5">o</tspan><tspan dy="5.5">C)</tspan></text>
<text transform="translate(12.9 159.3) rotate(-90)" text-anchor="middle" font-size="14.9" stroke="#000" stroke-width="0.4">Growth-per-cycle (Å)</text>
<text transform="translate(12.9 434.5) rotate(-90)" text-anchor="middle" font-size="14.9" stroke="#000" stroke-width="0.4">Growth-per-cycle (Å)</text>
<line x1="370.8" y1="18.4" x2="391.6" y2="18.4" stroke="#111111" stroke-width="1.7"/>
<rect x="378.9" y="16.1" width="4.5" height="4.5" fill="#fff" stroke="#111111" stroke-width="1.4"/>
<text x="394.0" y="22.3" font-size="9.6" font-weight="bold" letter-spacing="-0.52" word-spacing="0.9">TDMAT + O<tspan font-size="6.5" dy="2.2">3</tspan></text>
<line x1="370.8" y1="31.4" x2="391.6" y2="31.4" stroke="#ee1c25" stroke-width="1.7"/>
<circle cx="381.2" cy="31.4" r="2.5" fill="#fff" stroke="#ee1c25" stroke-width="1.4"/>
<text x="394.0" y="35.3" font-size="9.6" font-weight="bold" letter-spacing="-0.52" word-spacing="0.9">TDMAT + H<tspan font-size="6.5" dy="2.2">2</tspan><tspan dy="-2.2">O</tspan><tspan font-size="6.5" dy="2.2">2</tspan></text>
<line x1="370.8" y1="44.8" x2="391.6" y2="44.8" stroke="#1a7f22" stroke-width="1.7"/>
<polygon points="381.2,41.4 384.4,46.8 378.0,46.8" fill="#fff" stroke="#1a7f22" stroke-width="1.4" stroke-linejoin="miter"/>
<text x="394.0" y="48.7" font-size="9.6" font-weight="bold" letter-spacing="-0.52" word-spacing="0.9">TDMAT + O<tspan font-size="6.5" dy="2.2">2</tspan><tspan dy="-2.2"> pl.</tspan></text>
<line x1="370.8" y1="57.8" x2="391.6" y2="57.8" stroke="#1818d8" stroke-width="1.7"/>
<polygon points="381.2,61.2 384.4,55.8 378.0,55.8" fill="#fff" stroke="#1818d8" stroke-width="1.4" stroke-linejoin="miter"/>
<text x="394.0" y="61.7" font-size="9.6" font-weight="bold" letter-spacing="-0.52" word-spacing="0.9">TDMAT + H<tspan font-size="6.5" dy="2.2">2</tspan><tspan dy="-2.2">O pl.</tspan></text>
<line x1="370.8" y1="71.0" x2="391.6" y2="71.0" stroke="#8a2be8" stroke-width="1.7"/>
<polygon points="381.2,67.6 384.6,71.0 381.2,74.4 377.8,71.0" fill="#fff" stroke="#8a2be8" stroke-width="1.4"/>
<text x="394.0" y="74.9" font-size="9.6" font-weight="bold" letter-spacing="-0.52" word-spacing="0.9">TDEAT + O<tspan font-size="6.5" dy="2.2">3</tspan></text>
<line x1="370.8" y1="84.2" x2="391.6" y2="84.2" stroke="#f39230" stroke-width="1.7"/>
<polygon points="377.8,84.2 383.2,81.0 383.2,87.4" fill="#fff" stroke="#f39230" stroke-width="1.4" stroke-linejoin="miter"/>
<text x="394.0" y="88.1" font-size="9.6" font-weight="bold" letter-spacing="-0.52" word-spacing="0.9">TDEAT + O<tspan font-size="6.5" dy="2.2">2</tspan><tspan dy="-2.2"> pl.</tspan></text>
<line x1="370.8" y1="96.9" x2="391.6" y2="96.9" stroke="#2a8a9e" stroke-width="1.7"/>
<polygon points="384.6,96.9 379.2,93.7 379.2,100.1" fill="#fff" stroke="#2a8a9e" stroke-width="1.4" stroke-linejoin="miter"/>
<text x="394.0" y="100.8" font-size="9.6" font-weight="bold" letter-spacing="-0.52" word-spacing="0.9">TEMAT + O<tspan font-size="6.5" dy="2.2">3</tspan></text>
<line x1="370.8" y1="110.5" x2="391.6" y2="110.5" stroke="#8c8a2a" stroke-width="1.7"/>
<circle cx="381.2" cy="110.5" r="2.5" fill="#fff" stroke="#8c8a2a" stroke-width="1.4"/>
<text x="394.0" y="114.4" font-size="9.6" font-weight="bold" letter-spacing="-0.52" word-spacing="0.9">Ti(NEtMe)<tspan font-size="6.5" dy="2.2">3</tspan><tspan dy="-2.2">(guan-NEtMe) + O</tspan><tspan font-size="6.5" dy="2.2">3</tspan></text>
<line x1="370.8" y1="123.5" x2="391.6" y2="123.5" stroke="#33e6ee" stroke-width="1.7"/>
<polygon points="381.2,119.5 382.4,121.9 385.0,122.3 383.1,124.1 383.6,126.8 381.2,125.5 378.8,126.8 379.3,124.1 377.4,122.3 380.0,121.9" fill="#33e6ee" stroke="#33e6ee" stroke-width="0.84"/>
<text x="394.0" y="127.4" font-size="9.6" font-weight="bold" letter-spacing="-0.52" word-spacing="0.9">Ti(NMe)<tspan font-size="6.5" dy="2.2">3</tspan><tspan dy="-2.2">(CpMe) + O</tspan><tspan font-size="6.5" dy="2.2">2</tspan><tspan dy="-2.2"> pl.</tspan></text>
<line x1="370.8" y1="136.5" x2="391.6" y2="136.5" stroke="#e81b7c" stroke-width="1.7"/>
<circle cx="381.2" cy="136.5" r="2.5" fill="#fff" stroke="#e81b7c" stroke-width="1.4"/>
<text x="394.0" y="140.4" font-size="9.6" font-weight="bold" letter-spacing="-0.52" word-spacing="0.9">Ti(NMe)<tspan font-size="6.5" dy="2.2">3</tspan><tspan dy="-2.2">(CpN) + O</tspan><tspan font-size="6.5" dy="2.2">2</tspan><tspan dy="-2.2"> pl</tspan></text>
<line x1="370.8" y1="149.9" x2="391.6" y2="149.9" stroke="#8e1a1e" stroke-width="1.7"/>
<circle cx="381.2" cy="149.9" r="2.5" fill="#fff" stroke="#8e1a1e" stroke-width="1.4"/>
<text x="394.0" y="153.8" font-size="9.6" font-weight="bold" letter-spacing="-0.52" word-spacing="0.9">Ti(NMe)<tspan font-size="6.5" dy="2.2">3</tspan><tspan dy="-2.2">(dmap) + O</tspan><tspan font-size="6.5" dy="2.2">2</tspan><tspan dy="-2.2"> pl</tspan></text>
<line x1="370.8" y1="163.8" x2="391.6" y2="163.8" stroke="#111111" stroke-width="1.7"/>
<rect x="378.9" y="161.6" width="4.5" height="4.5" fill="#111111" stroke="#111111" stroke-width="1.4"/>
<text x="394.0" y="167.7" font-size="9.6" font-weight="bold" letter-spacing="-0.52" word-spacing="0.9">Ti(Cp)CHT + O<tspan font-size="6.5" dy="2.2">3</tspan></text>
<line x1="370.8" y1="177.6" x2="391.6" y2="177.6" stroke="#ee1c25" stroke-width="1.7"/>
<circle cx="381.2" cy="177.6" r="2.8" fill="#ee1c25" stroke="#ee1c25" stroke-width="1.4"/>
<text x="394.0" y="181.5" font-size="9.6" font-weight="bold" letter-spacing="-0.52" word-spacing="0.9">Ti(CpMe)(O<tspan font-size="6.5" dy="-3.2" font-style="italic">i</tspan><tspan dy="3.2">Pr)</tspan><tspan font-size="6.5" dy="2.2">3</tspan><tspan dy="-2.2"> + O</tspan><tspan font-size="6.5" dy="2.2">2</tspan><tspan dy="-2.2"> pl.</tspan></text>
<line x1="370.8" y1="190.7" x2="391.6" y2="190.7" stroke="#1a7f22" stroke-width="1.7"/>
<polygon points="381.2,187.0 384.7,192.9 377.7,192.9" fill="#1a7f22" stroke="#1a7f22" stroke-width="1.4" stroke-linejoin="miter"/>
<text x="394.0" y="194.6" font-size="9.6" font-weight="bold" letter-spacing="-0.52" word-spacing="0.9">Ti(CpMe<tspan font-size="6.5" dy="2.2">5</tspan><tspan dy="-2.2">)(OMe)</tspan><tspan font-size="6.5" dy="2.2">3</tspan><tspan dy="-2.2"> + O</tspan><tspan font-size="6.5" dy="2.2">2</tspan><tspan dy="-2.2"> pl.</tspan></text>
<line x1="370.8" y1="203.7" x2="391.6" y2="203.7" stroke="#1818d8" stroke-width="1.7"/>
<polygon points="381.2,207.4 384.7,201.5 377.7,201.5" fill="#1818d8" stroke="#1818d8" stroke-width="1.4" stroke-linejoin="miter"/>
<text x="394.0" y="207.6" font-size="9.6" font-weight="bold" letter-spacing="-0.52" word-spacing="0.9">Ti(CpMe<tspan font-size="6.5" dy="2.2">5</tspan><tspan dy="-2.2">)(OMe)</tspan><tspan font-size="6.5" dy="2.2">3</tspan><tspan dy="-2.2"> + O</tspan><tspan font-size="6.5" dy="2.2">3</tspan></text>
<line x1="370.8" y1="216.7" x2="391.6" y2="216.7" stroke="#8a2be8" stroke-width="1.7"/>
<polygon points="381.2,213.0 384.9,216.7 381.2,220.4 377.5,216.7" fill="#8a2be8" stroke="#8a2be8" stroke-width="1.4"/>
<text x="394.0" y="220.6" font-size="9.6" font-weight="bold" letter-spacing="-0.52" word-spacing="0.9">Ti(EtCp)(NMe<tspan font-size="6.5" dy="2.2">2</tspan><tspan dy="-2.2">)</tspan><tspan font-size="6.5" dy="2.2">3</tspan><tspan dy="-2.2"> + O</tspan><tspan font-size="6.5" dy="2.2">3</tspan></text>
<line x1="370.8" y1="231.3" x2="391.6" y2="231.3" stroke="#f39230" stroke-width="1.7"/>
<polygon points="377.5,231.3 383.4,227.8 383.4,234.8" fill="#f39230" stroke="#f39230" stroke-width="1.4" stroke-linejoin="miter"/>
<text x="394.0" y="235.2" font-size="9.6" font-weight="bold" letter-spacing="-0.52" word-spacing="0.9">Ti(O<tspan font-size="6.5" dy="-3.2" font-style="italic">i</tspan><tspan dy="3.2">Pr)</tspan><tspan font-size="6.5" dy="2.2">2</tspan><tspan dy="-2.2">(NMe</tspan><tspan font-size="6.5" dy="2.2">2</tspan><tspan dy="-2.2">)</tspan><tspan font-size="6.5" dy="2.2">2</tspan><tspan dy="-2.2"> + O</tspan><tspan font-size="6.5" dy="2.2">3</tspan></text>
<line x1="370.8" y1="245.5" x2="391.6" y2="245.5" stroke="#8c8a2a" stroke-width="1.7"/>
<polygon points="384.9,245.5 379.0,242.0 379.0,249.0" fill="#8c8a2a" stroke="#8c8a2a" stroke-width="1.4" stroke-linejoin="miter"/>
<text x="394.0" y="249.4" font-size="9.6" font-weight="bold" letter-spacing="-0.52" word-spacing="0.9">Ti(O<tspan font-size="6.5" dy="-3.2" font-style="italic">i</tspan><tspan dy="3.2">Pr)</tspan><tspan font-size="6.5" dy="2.2">3</tspan><tspan dy="-2.2">(</tspan><tspan font-size="6.5" dy="-3.2" font-style="italic">i</tspan><tspan dy="3.2">Pr</tspan><tspan font-size="6.5" dy="2.2">2</tspan><tspan dy="-2.2">AMD) + O</tspan><tspan font-size="6.5" dy="2.2">3</tspan></text>
<line x1="370.8" y1="260.1" x2="391.6" y2="260.1" stroke="#33e6ee" stroke-width="1.7"/>
<circle cx="381.2" cy="260.1" r="3.0" fill="#33e6ee" stroke="#33e6ee" stroke-width="1.4"/>
<text x="394.0" y="264.0" font-size="9.6" font-weight="bold" letter-spacing="-0.52" word-spacing="0.9">Ti(O<tspan font-size="6.5" dy="-3.2" font-style="italic">i</tspan><tspan dy="3.2">Pr)</tspan><tspan font-size="6.5" dy="2.2">4</tspan><tspan dy="-2.2"> + H</tspan><tspan font-size="6.5" dy="2.2">2</tspan><tspan dy="-2.2">O</tspan><tspan font-size="6.5" dy="2.2">2</tspan></text>
<line x1="370.8" y1="274.8" x2="391.6" y2="274.8" stroke="#e81b7c" stroke-width="1.7"/>
<polygon points="381.2,270.8 382.4,273.2 385.0,273.6 383.1,275.4 383.6,278.1 381.2,276.8 378.8,278.1 379.3,275.4 377.4,273.6 380.0,273.2" fill="#e81b7c" stroke="#e81b7c" stroke-width="0.84"/>
<text x="394.0" y="278.7" font-size="9.6" font-weight="bold" letter-spacing="-0.52" word-spacing="0.9">Ti(O<tspan font-size="6.5" dy="-3.2" font-style="italic">i</tspan><tspan dy="3.2">Pr)</tspan><tspan font-size="6.5" dy="2.2">4</tspan><tspan dy="-2.2"> + O</tspan><tspan font-size="6.5" dy="2.2">2</tspan><tspan dy="-2.2"> pl.</tspan></text>
<line x1="370.8" y1="289.1" x2="391.6" y2="289.1" stroke="#8e1a1e" stroke-width="1.7"/>
<polygon points="381.2,285.6 384.5,288.0 383.2,291.9 379.2,291.9 377.9,288.0" fill="#8e1a1e" stroke="#8e1a1e" stroke-width="1.4"/>
<text x="394.0" y="293.0" font-size="9.6" font-weight="bold" letter-spacing="-0.52" word-spacing="0.9">Ti(O<tspan font-size="6.5" dy="-3.2" font-style="italic">i</tspan><tspan dy="3.2">Pr)</tspan><tspan font-size="6.5" dy="2.2">4</tspan><tspan dy="-2.2"> + O</tspan><tspan font-size="6.5" dy="2.2">3</tspan></text>
<line x1="370.8" y1="303.6" x2="391.6" y2="303.6" stroke="#3de03d" stroke-width="1.7"/>
<circle cx="381.2" cy="303.6" r="3.0" fill="#3de03d" stroke="#3de03d" stroke-width="1.4"/>
<text x="394.0" y="307.5" font-size="9.6" font-weight="bold" letter-spacing="-0.52" word-spacing="0.9">Ti(O<tspan font-size="6.5" dy="-3.2" font-style="italic">i</tspan><tspan dy="3.2">Pr)</tspan><tspan font-size="6.5" dy="2.2">4</tspan><tspan dy="-2.2"> + H</tspan><tspan font-size="6.5" dy="2.2">2</tspan><tspan dy="-2.2">O pl.</tspan></text>
<line x1="370.8" y1="317.9" x2="391.6" y2="317.9" stroke="#c0e07a" stroke-width="1.7"/>
<path d="M377.9 317.9H384.5M381.2 314.6V321.2" stroke="#c0e07a" stroke-width="1.4" fill="none"/>
<text x="394.0" y="321.8" font-size="9.6" font-weight="bold" letter-spacing="-0.52" word-spacing="0.9">Ti(O<tspan font-size="6.5" dy="-3.2" font-style="italic">i</tspan><tspan dy="3.2">Pr)</tspan><tspan font-size="6.5" dy="2.2">4</tspan><tspan dy="-2.2"> + photons</tspan></text>
<line x1="370.8" y1="365.4" x2="391.6" y2="365.4" stroke="#111111" stroke-width="1.7"/>
<rect x="378.7" y="362.9" width="5.0" height="5.0" fill="#fff" stroke="#111111" stroke-width="1.4"/>
<text x="394.0" y="369.3" font-size="9.6" font-weight="bold" letter-spacing="-0.52" word-spacing="0.9">TDMAT + H<tspan font-size="6.5" dy="2.2">2</tspan><tspan dy="-2.2">O</tspan></text>
<line x1="370.8" y1="378.5" x2="391.6" y2="378.5" stroke="#ee1c25" stroke-width="1.7"/>
<circle cx="381.2" cy="378.5" r="2.8" fill="#fff" stroke="#ee1c25" stroke-width="1.4"/>
<text x="394.0" y="382.4" font-size="9.6" font-weight="bold" letter-spacing="-0.52" word-spacing="0.9">TEMAT + H<tspan font-size="6.5" dy="2.2">2</tspan><tspan dy="-2.2">O</tspan></text>
<line x1="370.8" y1="392.0" x2="391.6" y2="392.0" stroke="#1a7f22" stroke-width="1.7"/>
<polygon points="381.2,388.3 384.7,394.2 377.7,394.2" fill="#fff" stroke="#1a7f22" stroke-width="1.4" stroke-linejoin="miter"/>
<text x="394.0" y="395.9" font-size="9.6" font-weight="bold" letter-spacing="-0.52" word-spacing="0.9">TDEAT + H<tspan font-size="6.5" dy="2.2">2</tspan><tspan dy="-2.2">O</tspan></text>
<line x1="370.8" y1="405.0" x2="391.6" y2="405.0" stroke="#1818d8" stroke-width="1.7"/>
<polygon points="381.2,408.7 384.7,402.8 377.7,402.8" fill="#fff" stroke="#1818d8" stroke-width="1.4" stroke-linejoin="miter"/>
<text x="394.0" y="408.9" font-size="9.6" font-weight="bold" letter-spacing="-0.52" word-spacing="0.9">Ti(NEtMe)<tspan font-size="6.5" dy="2.2">3</tspan><tspan dy="-2.2">(guan-NEtMe) + H</tspan><tspan font-size="6.5" dy="2.2">2</tspan><tspan dy="-2.2">O</tspan></text>
<line x1="370.8" y1="417.5" x2="391.6" y2="417.5" stroke="#8a2be8" stroke-width="1.7"/>
<polygon points="381.2,413.8 384.9,417.5 381.2,421.2 377.5,417.5" fill="#fff" stroke="#8a2be8" stroke-width="1.4"/>
<text x="394.0" y="421.4" font-size="9.6" font-weight="bold" letter-spacing="-0.52" word-spacing="0.9">Ti(NMe<tspan font-size="6.5" dy="2.2">2</tspan><tspan dy="-2.2">)</tspan><tspan font-size="6.5" dy="2.2">3</tspan><tspan dy="-2.2">(guan-NMe</tspan><tspan font-size="6.5" dy="2.2">2</tspan><tspan dy="-2.2">) + H</tspan><tspan font-size="6.5" dy="2.2">2</tspan><tspan dy="-2.2">O</tspan></text>
<line x1="370.8" y1="430.5" x2="391.6" y2="430.5" stroke="#f39230" stroke-width="1.7"/>
<polygon points="377.5,430.5 383.4,427.0 383.4,434.0" fill="#fff" stroke="#f39230" stroke-width="1.4" stroke-linejoin="miter"/>
<text x="394.0" y="434.4" font-size="9.6" font-weight="bold" letter-spacing="-0.52" word-spacing="0.9">Ti(OEt)<tspan font-size="6.5" dy="2.2">4</tspan><tspan dy="-2.2"> + H</tspan><tspan font-size="6.5" dy="2.2">2</tspan><tspan dy="-2.2">O</tspan></text>
<line x1="370.8" y1="444.5" x2="391.6" y2="444.5" stroke="#2a8a9e" stroke-width="1.7"/>
<polygon points="384.9,444.5 379.0,441.0 379.0,448.0" fill="#fff" stroke="#2a8a9e" stroke-width="1.4" stroke-linejoin="miter"/>
<text x="394.0" y="448.4" font-size="9.6" font-weight="bold" letter-spacing="-0.52" word-spacing="0.9">Ti(O<tspan font-size="6.5" dy="-3.2" font-style="italic">i</tspan><tspan dy="3.2">Pr)</tspan><tspan font-size="6.5" dy="2.2">2</tspan><tspan dy="-2.2">(dmae)</tspan><tspan font-size="6.5" dy="2.2">2</tspan><tspan dy="-2.2"> + H</tspan><tspan font-size="6.5" dy="2.2">2</tspan><tspan dy="-2.2">O</tspan></text>
<line x1="370.8" y1="460.3" x2="391.6" y2="460.3" stroke="#8c8a2a" stroke-width="1.7"/>
<circle cx="381.2" cy="460.3" r="2.8" fill="#fff" stroke="#8c8a2a" stroke-width="1.4"/>
<text x="394.0" y="464.2" font-size="9.6" font-weight="bold" letter-spacing="-0.52" word-spacing="0.9">Ti(O<tspan font-size="6.5" dy="-3.2" font-style="italic">i</tspan><tspan dy="3.2">Pr)</tspan><tspan font-size="6.5" dy="2.2">2</tspan><tspan dy="-2.2">(NMe</tspan><tspan font-size="6.5" dy="2.2">2</tspan><tspan dy="-2.2">)</tspan><tspan font-size="6.5" dy="2.2">2</tspan><tspan dy="-2.2"> + H</tspan><tspan font-size="6.5" dy="2.2">2</tspan><tspan dy="-2.2">O</tspan></text>
<line x1="370.8" y1="474.1" x2="391.6" y2="474.1" stroke="#33e6ee" stroke-width="1.7"/>
<polygon points="381.2,470.1 382.4,472.5 385.0,472.9 383.1,474.7 383.6,477.4 381.2,476.1 378.8,477.4 379.3,474.7 377.4,472.9 380.0,472.5" fill="#33e6ee" stroke="#33e6ee" stroke-width="0.84"/>
<text x="394.0" y="478.0" font-size="9.6" font-weight="bold" letter-spacing="-0.52" word-spacing="0.9">Ti(O<tspan font-size="6.5" dy="-3.2" font-style="italic">i</tspan><tspan dy="3.2">Pr)</tspan><tspan font-size="6.5" dy="2.2">4</tspan><tspan dy="-2.2"> + H</tspan><tspan font-size="6.5" dy="2.2">2</tspan><tspan dy="-2.2">O</tspan></text>
<line x1="370.8" y1="488.3" x2="391.6" y2="488.3" stroke="#e81b7c" stroke-width="1.7"/>
<circle cx="381.2" cy="488.3" r="2.8" fill="#fff" stroke="#e81b7c" stroke-width="1.4"/>
<text x="394.0" y="492.2" font-size="9.6" font-weight="bold" letter-spacing="-0.52" word-spacing="0.9">Ti(O<tspan font-size="6.5" dy="-3.2" font-style="italic">i</tspan><tspan dy="3.2">Pr)</tspan><tspan font-size="6.5" dy="2.2">4</tspan><tspan dy="-2.2"> + CH</tspan><tspan font-size="6.5" dy="2.2">3</tspan><tspan dy="-2.2">COOH</tspan></text>
<line x1="370.8" y1="501.8" x2="391.6" y2="501.8" stroke="#8e1a1e" stroke-width="1.7"/>
<circle cx="381.2" cy="501.8" r="2.8" fill="#fff" stroke="#8e1a1e" stroke-width="1.4"/>
<text x="394.0" y="505.7" font-size="9.6" font-weight="bold" letter-spacing="-0.52" word-spacing="0.9">Ti(OMe)<tspan font-size="6.5" dy="2.2">4</tspan><tspan dy="-2.2"> + H</tspan><tspan font-size="6.5" dy="2.2">2</tspan><tspan dy="-2.2">O</tspan></text>
<path d="M370.8 515.3H376.2M386.2 515.3H391.6" stroke="#111111" stroke-width="1.7"/>
<rect x="377.7" y="511.8" width="7.0" height="7.0" fill="#111111" stroke="#111111" stroke-width="1.4"/>
<text x="394.0" y="519.2" font-size="9.6" font-weight="bold" letter-spacing="-0.52" word-spacing="0.9">TiCl<tspan font-size="6.5" dy="2.2">4</tspan><tspan dy="-2.2"> + H</tspan><tspan font-size="6.5" dy="2.2">2</tspan><tspan dy="-2.2">O</tspan></text>
<path d="M370.8 528.5H376.2M386.2 528.5H391.6" stroke="#ee1c25" stroke-width="1.7"/>
<circle cx="381.2" cy="528.5" r="3.8" fill="#ee1c25" stroke="#ee1c25" stroke-width="1.4"/>
<text x="394.0" y="532.4" font-size="9.6" font-weight="bold" letter-spacing="-0.52" word-spacing="0.9">TiCl<tspan font-size="6.5" dy="2.2">4</tspan><tspan dy="-2.2"> + MeOH</tspan></text>
<path d="M370.8 541.8H376.2M386.2 541.8H391.6" stroke="#1a7f22" stroke-width="1.7"/>
<polygon points="381.2,537.1 385.6,544.6 376.8,544.6" fill="#1a7f22" stroke="#1a7f22" stroke-width="1.4" stroke-linejoin="miter"/>
<text x="394.0" y="545.7" font-size="9.6" font-weight="bold" letter-spacing="-0.52" word-spacing="0.9">TiF<tspan font-size="6.5" dy="2.2">4</tspan><tspan dy="-2.2"> + H</tspan><tspan font-size="6.5" dy="2.2">2</tspan><tspan dy="-2.2">O</tspan></text>
<path d="M370.8 554.9H376.2M386.2 554.9H391.6" stroke="#1818d8" stroke-width="1.7"/>
<polygon points="381.2,559.5 385.6,552.1 376.8,552.1" fill="#1818d8" stroke="#1818d8" stroke-width="1.4" stroke-linejoin="miter"/>
<text x="394.0" y="558.8" font-size="9.6" font-weight="bold" letter-spacing="-0.52" word-spacing="0.9">TiI<tspan font-size="6.5" dy="2.2">4</tspan><tspan dy="-2.2"> + O</tspan><tspan font-size="6.5" dy="2.2">2</tspan></text>
<path d="M370.8 568.0H376.2M386.2 568.0H391.6" stroke="#8a2be8" stroke-width="1.7"/>
<polygon points="381.2,562.7 386.5,568.0 381.2,573.3 375.9,568.0" fill="#8a2be8" stroke="#8a2be8" stroke-width="1.4"/>
<text x="394.0" y="571.9" font-size="9.6" font-weight="bold" letter-spacing="-0.52" word-spacing="0.9">TiI<tspan font-size="6.5" dy="2.2">4</tspan><tspan dy="-2.2"> + H</tspan><tspan font-size="6.5" dy="2.2">2</tspan><tspan dy="-2.2">O</tspan></text>
<line x1="270.6" y1="37.5" x2="290.8" y2="37.5" stroke="#111111" stroke-width="1.7"/>
<rect x="278.6" y="35.2" width="4.5" height="4.5" fill="#111111" stroke="#111111" stroke-width="1.4"/>
<text x="294.0" y="41.4" font-size="9.6" font-weight="bold" letter-spacing="-0.52" word-spacing="0.9">TiCl<tspan font-size="6.5" dy="2.2">4</tspan><tspan dy="-2.2"> + H</tspan><tspan font-size="6.5" dy="2.2">2</tspan><tspan dy="-2.2">O</tspan><tspan font-size="6.5" dy="2.2">2</tspan></text>
<line x1="270.6" y1="50.4" x2="290.8" y2="50.4" stroke="#ee1c25" stroke-width="1.7"/>
<circle cx="280.8" cy="50.4" r="2.5" fill="#ee1c25" stroke="#ee1c25" stroke-width="1.4"/>
<text x="294.0" y="54.3" font-size="9.6" font-weight="bold" letter-spacing="-0.52" word-spacing="0.9">TiCl<tspan font-size="6.5" dy="2.2">4</tspan><tspan dy="-2.2"> + O</tspan><tspan font-size="6.5" dy="2.2">2</tspan><tspan dy="-2.2"> pl.</tspan></text>
<line x1="270.6" y1="62.8" x2="290.8" y2="62.8" stroke="#1a7f22" stroke-width="1.7"/>
<polygon points="280.8,59.4 284.0,64.8 277.6,64.8" fill="#1a7f22" stroke="#1a7f22" stroke-width="1.4" stroke-linejoin="miter"/>
<text x="294.0" y="66.7" font-size="9.6" font-weight="bold" letter-spacing="-0.52" word-spacing="0.9">TiCl<tspan font-size="6.5" dy="2.2">4</tspan><tspan dy="-2.2"> + O</tspan><tspan font-size="6.5" dy="2.2">3</tspan></text>
<line x1="270.6" y1="76.0" x2="290.8" y2="76.0" stroke="#1818d8" stroke-width="1.7"/>
<polygon points="280.8,79.4 284.0,74.0 277.6,74.0" fill="#1818d8" stroke="#1818d8" stroke-width="1.4" stroke-linejoin="miter"/>
<text x="294.0" y="79.9" font-size="9.6" font-weight="bold" letter-spacing="-0.52" word-spacing="0.9">TiCl<tspan font-size="6.5" dy="2.2">4</tspan><tspan dy="-2.2"> + H</tspan><tspan font-size="6.5" dy="2.2">2</tspan><tspan dy="-2.2">O pl.</tspan></text>
<line x1="270.6" y1="88.8" x2="290.8" y2="88.8" stroke="#8a2be8" stroke-width="1.7"/>
<polygon points="280.8,85.1 284.5,88.8 280.8,92.5 277.1,88.8" fill="#8a2be8" stroke="#8a2be8" stroke-width="1.4"/>
<text x="294.0" y="92.7" font-size="9.6" font-weight="bold" letter-spacing="-0.52" word-spacing="0.9">TiI<tspan font-size="6.5" dy="2.2">4</tspan><tspan dy="-2.2"> + H</tspan><tspan font-size="6.5" dy="2.2">2</tspan><tspan dy="-2.2">O</tspan><tspan font-size="6.5" dy="2.2">2</tspan></text>
</svg>
</body></html>
